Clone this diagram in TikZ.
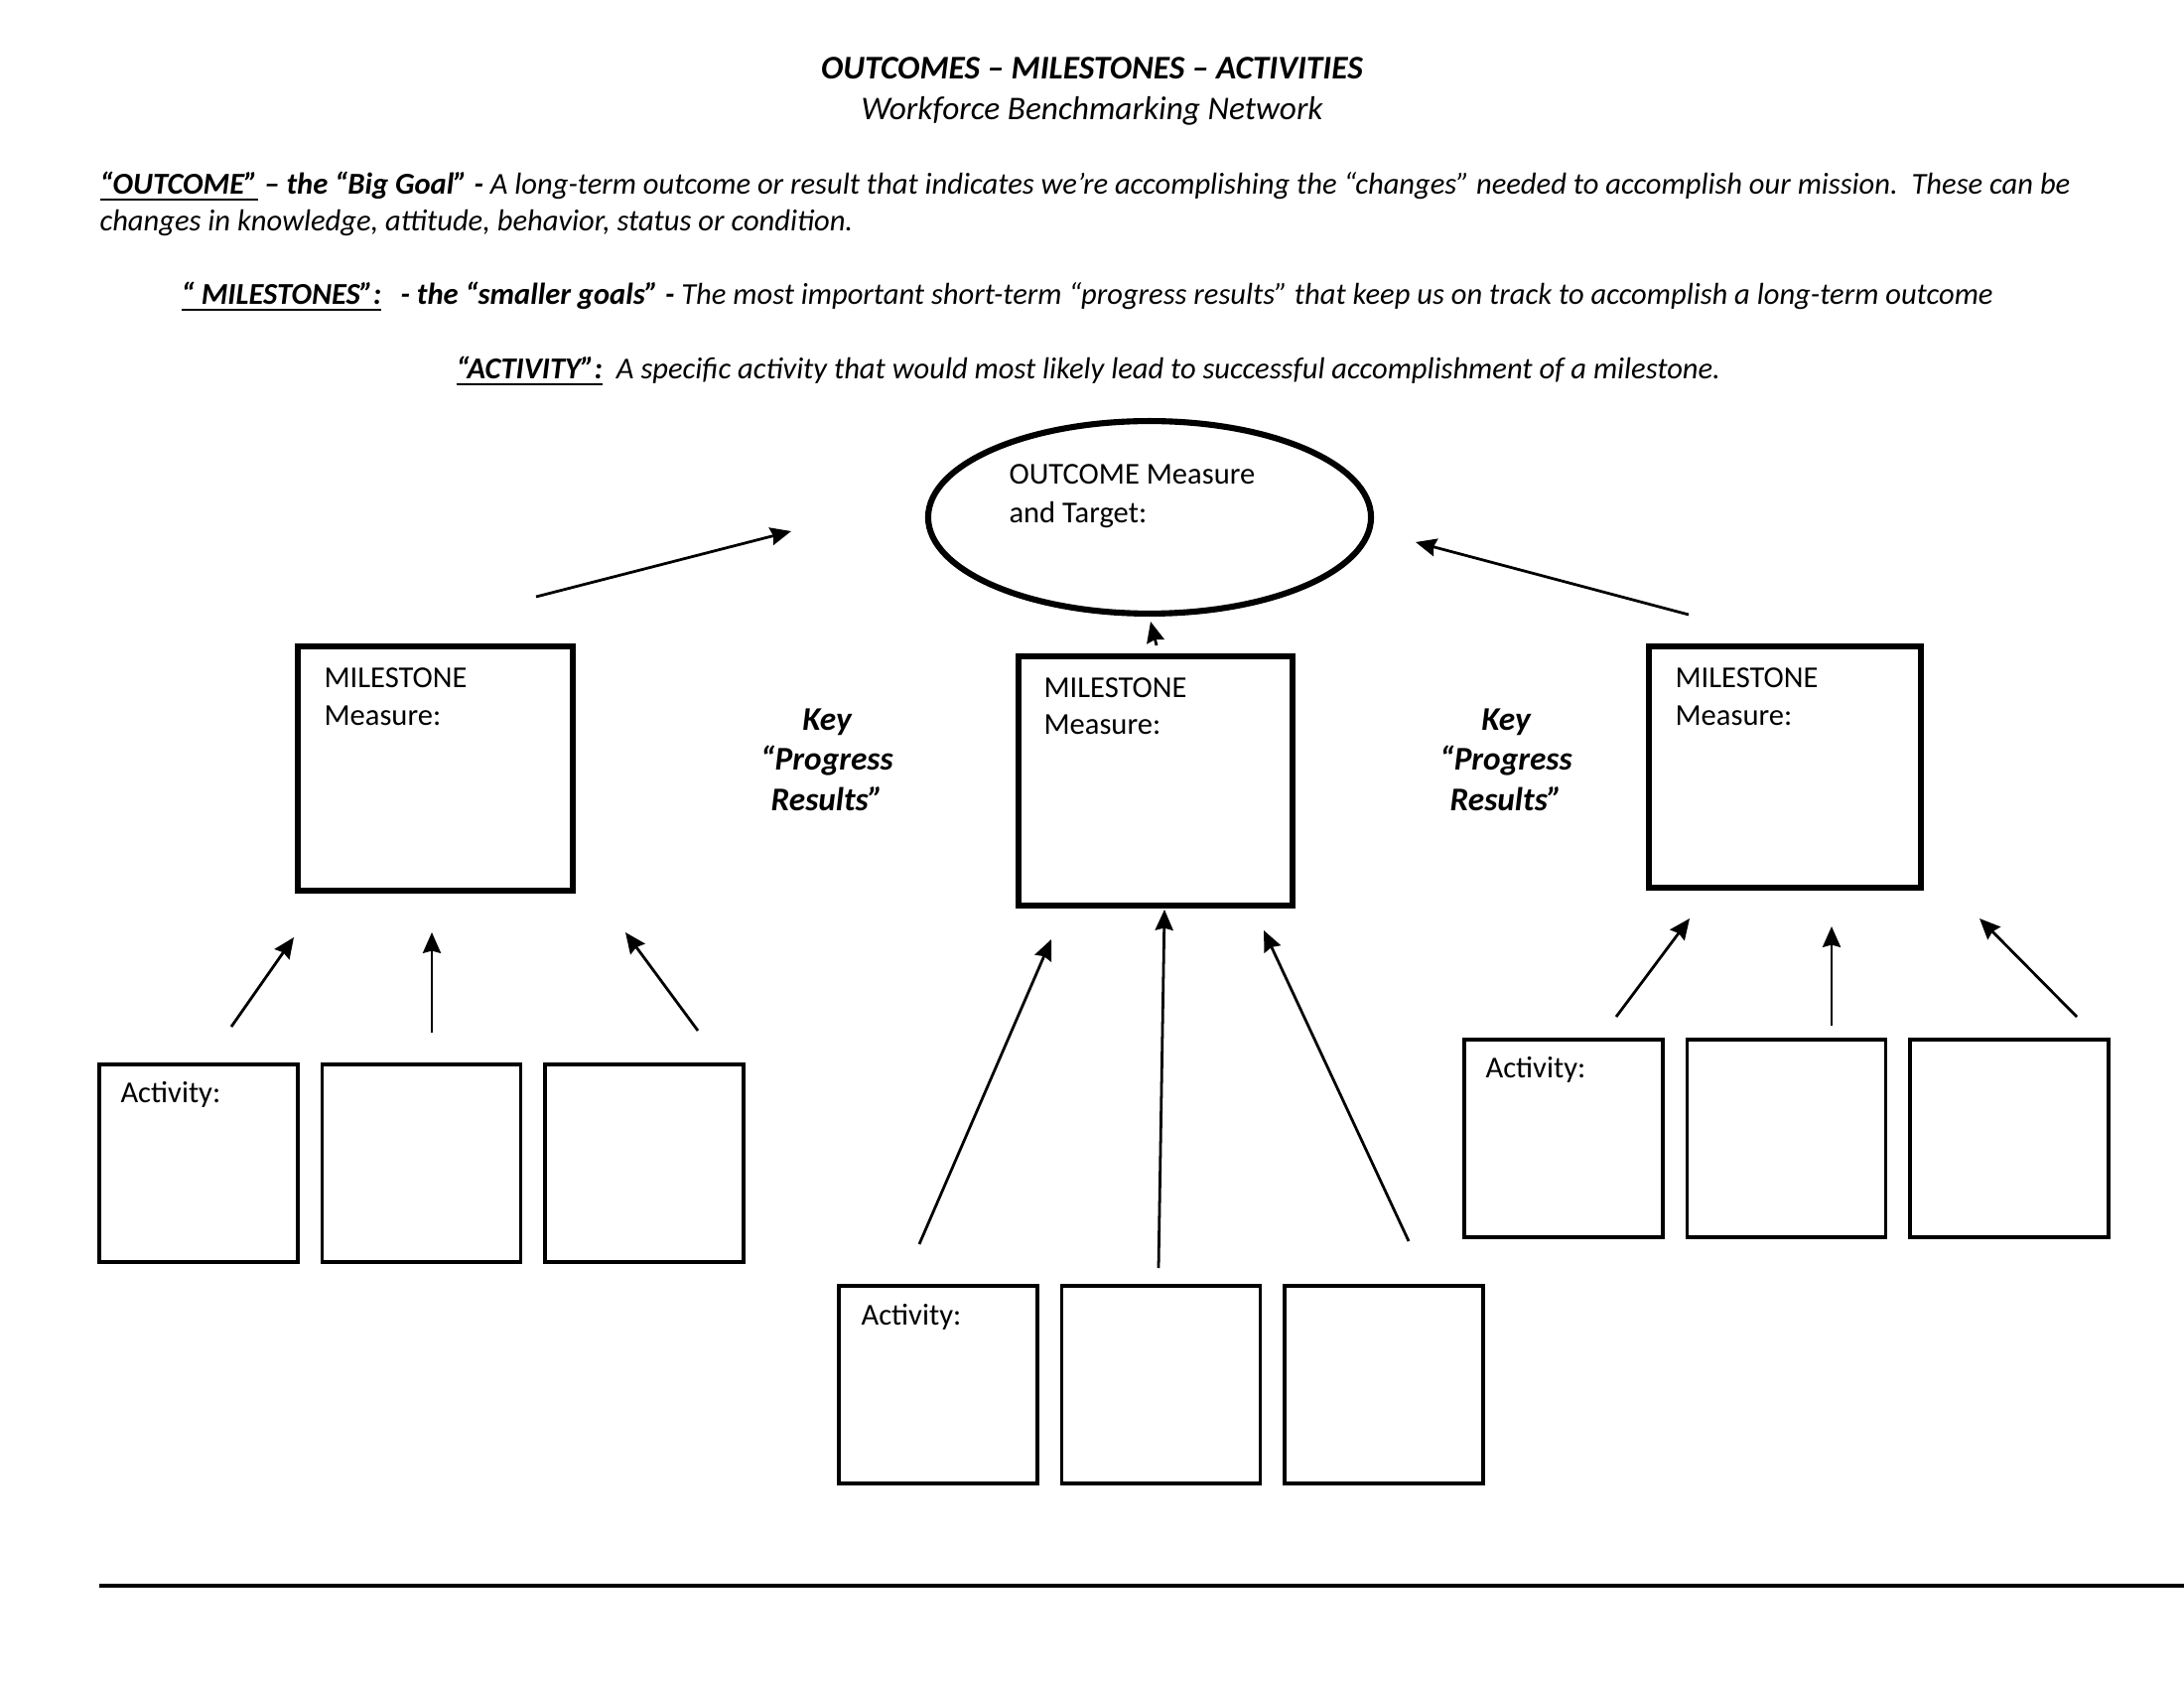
\documentclass[tikz,border=0pt]{standalone}
\usepackage{fontspec}
\setmainfont{Carlito}
\usetikzlibrary{arrows.meta,shapes.geometric}
\newcommand{\myul}[1]{\setbox0=\hbox{#1}\rlap{\rule[-2.2pt]{\wd0}{0.8pt}}\box0\relax}
\tikzset{
  txt/.style={inner sep=0pt, anchor=base west, font=\fontsize{11}{13.4}\selectfont},
  itx/.style={inner sep=0pt, anchor=base west, font=\fontsize{11}{13.4}\selectfont\itshape},
  ctr/.style={inner sep=0pt, anchor=base, font=\fontsize{12}{14.6}\selectfont\itshape},
  keytxt/.style={inner sep=0pt, align=center, font=\fontsize{12}{14.6}\selectfont\bfseries\itshape},
  msbox/.style={draw, rectangle, line width=2.2pt, inner sep=0pt},
  actbox/.style={draw, rectangle, line width=1.2pt, minimum width=72pt, minimum height=71.6pt, inner sep=0pt},
  outell/.style={draw, ellipse, line width=2.2pt, minimum width=160.6pt, minimum height=69.8pt, inner sep=0pt},
  arr/.style={line width=1pt, -{Stealth[length=7.5pt,width=6.5pt,inset=0.8pt]}},
  footline/.style={line width=1.5pt}
}
\begin{document}
\begin{tikzpicture}[x=0.36pt,y=-0.36pt]
\useasboundingbox (0,0) rectangle (2200,1700);

% header texts
\node[ctr, font=\fontsize{12}{14.6}\selectfont\bfseries\itshape] (title) at (1100,80) {OUTCOMES – MILESTONES – ACTIVITIES};
\node[ctr] (subtitle) at (1100,121) {Workforce Benchmarking Network};
\node[itx] (p1) at (100,196) {\textbf{\myul{“OUTCOME”} – the “Big Goal” -} A long-term outcome or result that indicates we’re accomplishing the “changes” needed to accomplish our mission.\ \ These can be};
\node[itx] (p2) at (100,233) {changes in knowledge, attitude, behavior, status or condition.};
\node[itx] (p3) at (182,307) {\textbf{\myul{“ MILESTONES”:}\hspace{7pt}- the “smaller goals” -} The most important short-term “progress results” that keep us on track to accomplish a long-term outcome};
\node[itx] (p4) at (459,382) {\textbf{\myul{“ACTIVITY”:}}\hspace{5pt}A specific activity that would most likely lead to successful accomplishment of a milestone.};

% outcome ellipse
\node[outell] (out) at (1158,521) {};
\node[txt] (outt1) at (1016,488) {OUTCOME Measure};
\node[txt] (outt2) at (1016,527) {and Target:};

% milestone boxes
\node[msbox, minimum width=99.7pt, minimum height=88.6pt] (msL) at (438.5,774) {};
\node[msbox, minimum width=99.4pt, minimum height=90.4pt] (msC) at (1164,786.5) {};
\node[msbox, minimum width=98.6pt, minimum height=87.5pt] (msR) at (1798,772.5) {};
\node[txt] (msLt1) at (326,693) {MILESTONE};
\node[txt] (msLt2) at (326,731) {Measure:};
\node[txt] (msCt1) at (1051,703) {MILESTONE};
\node[txt] (msCt2) at (1051,740) {Measure:};
\node[txt] (msRt1) at (1687,693) {MILESTONE};
\node[txt] (msRt2) at (1687,731) {Measure:};

% key progress results
\node[keytxt] (keyL) at (833,765) {Key\\“Progress\\Results”};
\node[keytxt] (keyR) at (1517,765) {Key\\“Progress\\Results”};

% activity boxes
\node[actbox] (aL1) at (200,1171.5) {};
\node[actbox] (aL2) at (424.5,1171.5) {};
\node[actbox] (aL3) at (649,1171.5) {};
\node[actbox] (aC1) at (945,1394.5) {};
\node[actbox] (aC2) at (1169.5,1394.5) {};
\node[actbox] (aC3) at (1394,1394.5) {};
\node[actbox] (aR1) at (1575,1146.5) {};
\node[actbox] (aR2) at (1799.5,1146.5) {};
\node[actbox] (aR3) at (2024,1146.5) {};
\node[txt] (aL1t) at (121,1110) {Activity:};
\node[txt] (aC1t) at (867,1334) {Activity:};
\node[txt] (aR1t) at (1496,1085) {Activity:};

% arrow end points
\coordinate (tLs) at (540,601);   \coordinate (tLe) at (797,535);
\coordinate (tRs) at (1701,619);  \coordinate (tRe) at (1426,546);
\coordinate (tCs) at (1165,650);  \coordinate (tCe) at (1159,626);
\coordinate (l1s) at (233,1034);  \coordinate (l1e) at (296,944);
\coordinate (l2s) at (435,1040);  \coordinate (l2e) at (435,939);
\coordinate (l3s) at (703,1038);  \coordinate (l3e) at (630,939);
\coordinate (c1s) at (926,1253);  \coordinate (c1e) at (1059,946);
\coordinate (c2s) at (1167,1277); \coordinate (c2e) at (1173,916);
\coordinate (c3s) at (1419,1250); \coordinate (c3e) at (1273,937);
\coordinate (r1s) at (1628,1024); \coordinate (r1e) at (1702,925);
\coordinate (r2s) at (1845,1033); \coordinate (r2e) at (1845,933);
\coordinate (r3s) at (2092,1024); \coordinate (r3e) at (1994,925);

\draw[arr] (tLs) -- (tLe);
\draw[arr] (tRs) -- (tRe);
\draw[arr] (tCs) -- (tCe);
\draw[arr] (l1s) -- (l1e);
\draw[arr] (l2s) -- (l2e);
\draw[arr] (l3s) -- (l3e);
\draw[arr] (c1s) -- (c1e);
\draw[arr] (c2s) -- (c2e);
\draw[arr] (c3s) -- (c3e);
\draw[arr] (r1s) -- (r1e);
\draw[arr] (r2s) -- (r2e);
\draw[arr] (r3s) -- (r3e);

% bottom rule
\coordinate (fl1) at (100,1597);
\coordinate (fl2) at (2200,1597);
\draw[footline] (fl1) -- (fl2);
\end{tikzpicture}
\end{document}
